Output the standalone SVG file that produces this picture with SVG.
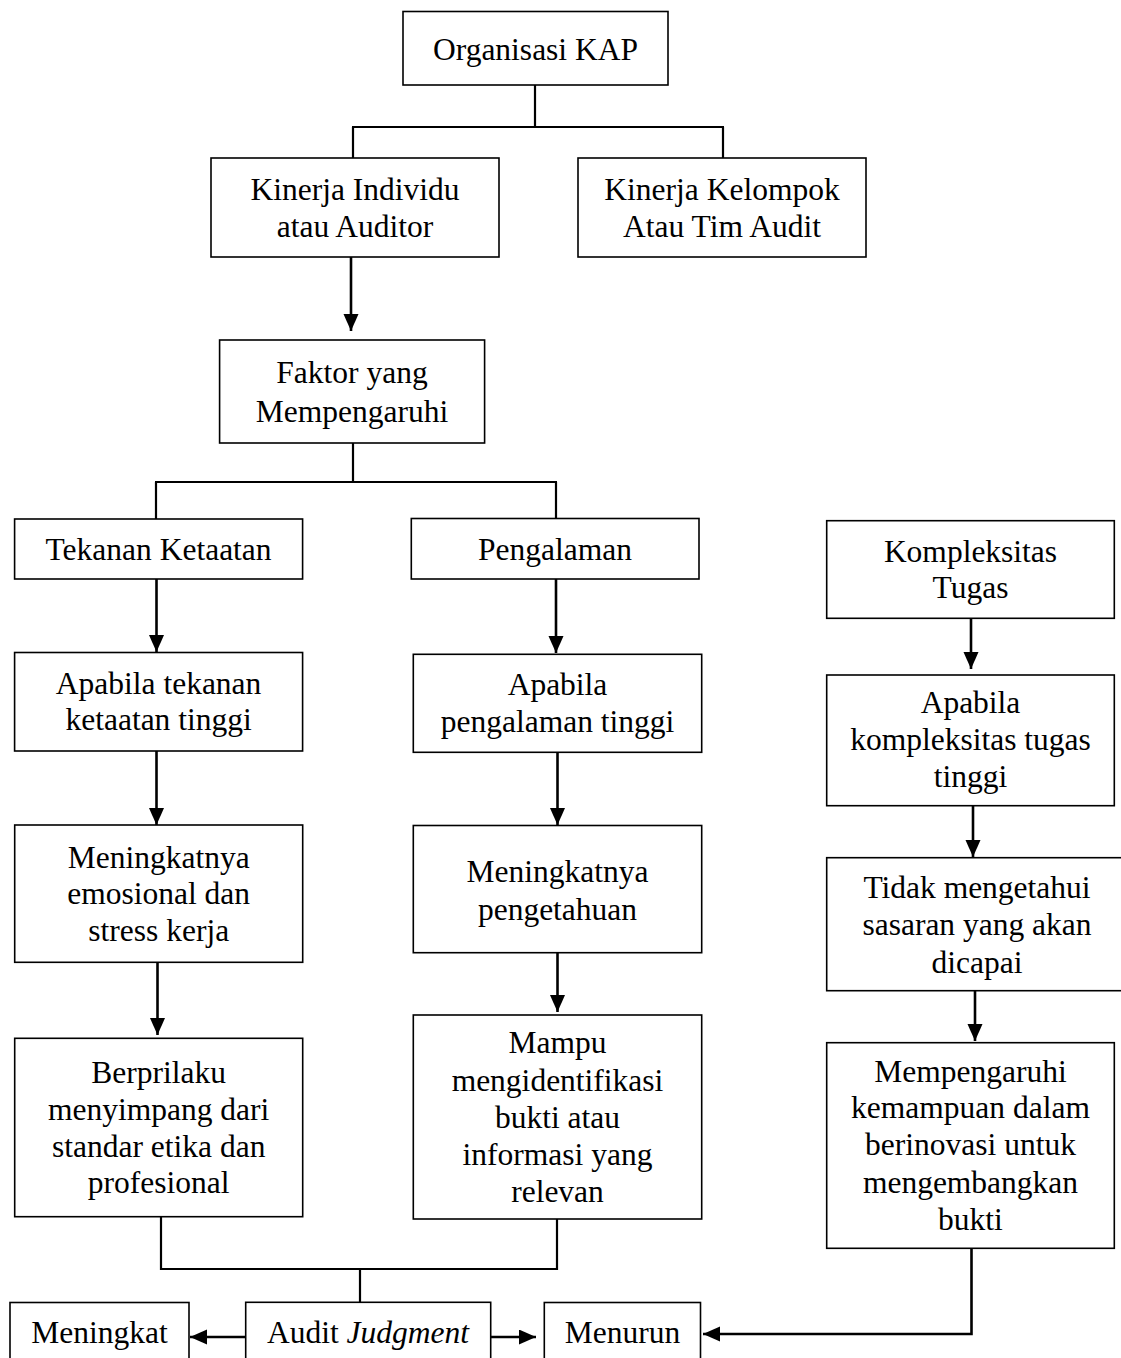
<svg xmlns="http://www.w3.org/2000/svg" width="1121" height="1358" viewBox="0 0 1121 1358">
<style>
.box{fill:#fff;stroke:#000;stroke-width:1.6}
.t{font-family:"Liberation Serif","Times New Roman",serif;font-size:31.5px;fill:#000;text-anchor:middle}
.c{fill:none;stroke:#000;stroke-width:2.2}
.a{fill:none;stroke:#000;stroke-width:2.6}
</style>
<defs>
<marker id="ah" markerUnits="userSpaceOnUse" markerWidth="18" markerHeight="16" refX="17" refY="7.5" orient="auto">
<path d="M0,0 L17,7.5 L0,15 z" fill="#000"/>
</marker>
</defs>
<rect width="1121" height="1358" fill="#fff"/>
<g id="connectors">
<path class="c" d="M535,85 V127 M352,127 H724 M353,127 V158 M723,127 V158"/>
<path class="a" d="M351,257 V331" marker-end="url(#ah)"/>
<path class="c" d="M353,443 V482 M155,482 H557 M156,482 V519 M556,482 V519"/>
<path class="a" d="M156.5,579 V652" marker-end="url(#ah)"/>
<path class="a" d="M156.5,751 V825" marker-end="url(#ah)"/>
<path class="a" d="M157.5,962 V1035" marker-end="url(#ah)"/>
<path class="a" d="M556,579 V653" marker-end="url(#ah)"/>
<path class="a" d="M557.5,752 V825" marker-end="url(#ah)"/>
<path class="a" d="M557.5,953 V1012" marker-end="url(#ah)"/>
<path class="a" d="M971,618 V669" marker-end="url(#ah)"/>
<path class="a" d="M973,806 V857" marker-end="url(#ah)"/>
<path class="a" d="M975,991 V1041" marker-end="url(#ah)"/>
<path class="c" d="M161,1217 V1269 H557 V1219 M360,1269 V1302"/>
<path class="a" d="M245.7,1337 H190" marker-end="url(#ah)"/>
<path class="a" d="M490.7,1337 H536" marker-end="url(#ah)"/>
<path class="a" d="M971.5,1248 V1334 H703" marker-end="url(#ah)"/>
</g>
<g id="n-organisasi">
<rect class="box" x="403" y="11.5" width="265" height="73.5"/>
<text class="t" x="535.5" y="59.5">Organisasi KAP</text>
</g>
<g id="n-individu">
<rect class="box" x="211" y="158" width="288" height="99"/>
<text class="t" x="355" y="200">Kinerja Individu</text>
<text class="t" x="355" y="237">atau Auditor</text>
</g>
<g id="n-kelompok">
<rect class="box" x="578" y="158" width="288" height="99"/>
<text class="t" x="722" y="200">Kinerja Kelompok</text>
<text class="t" x="722" y="237">Atau Tim Audit</text>
</g>
<g id="n-faktor">
<rect class="box" x="219.6" y="340" width="265" height="103"/>
<text class="t" x="352" y="383">Faktor yang</text>
<text class="t" x="352" y="421.5">Mempengaruhi</text>
</g>
<g id="n-tekanan">
<rect class="box" x="14.6" y="519" width="288" height="60"/>
<text class="t" x="158.6" y="559.5">Tekanan Ketaatan</text>
</g>
<g id="n-pengalaman">
<rect class="box" x="411.3" y="518.5" width="287.7" height="60.5"/>
<text class="t" x="555" y="560">Pengalaman</text>
</g>
<g id="n-kompleksitas">
<rect class="box" x="826.7" y="520.7" width="287.6" height="97.6"/>
<text class="t" x="970.5" y="562.3">Kompleksitas</text>
<text class="t" x="970.5" y="598">Tugas</text>
</g>
<g id="n-apabila-tekanan">
<rect class="box" x="14.6" y="652.5" width="288" height="98.5"/>
<text class="t" x="158.6" y="693.5">Apabila tekanan</text>
<text class="t" x="158.6" y="730">ketaatan tinggi</text>
</g>
<g id="n-apabila-pengalaman">
<rect class="box" x="413.3" y="654.3" width="288.4" height="98"/>
<text class="t" x="557.5" y="695">Apabila</text>
<text class="t" x="557.5" y="731.7">pengalaman tinggi</text>
</g>
<g id="n-apabila-kompleksitas">
<rect class="box" x="826.7" y="675" width="287.6" height="130.7"/>
<text class="t" x="970.5" y="713.3">Apabila</text>
<text class="t" x="970.5" y="750">kompleksitas tugas</text>
<text class="t" x="970.5" y="786.7">tinggi</text>
</g>
<g id="n-emosional">
<rect class="box" x="14.7" y="825" width="288" height="137.3"/>
<text class="t" x="158.7" y="867.7">Meningkatnya</text>
<text class="t" x="158.7" y="904">emosional dan</text>
<text class="t" x="158.7" y="941">stress kerja</text>
</g>
<g id="n-pengetahuan">
<rect class="box" x="413.3" y="825.5" width="288.4" height="127.2"/>
<text class="t" x="557.5" y="881.7">Meningkatnya</text>
<text class="t" x="557.5" y="920">pengetahuan</text>
</g>
<g id="n-tidak">
<rect class="box" x="826.7" y="857.7" width="300" height="133"/>
<text class="t" x="977" y="898.3">Tidak mengetahui</text>
<text class="t" x="977" y="935">sasaran yang akan</text>
<text class="t" x="977" y="973.3">dicapai</text>
</g>
<g id="n-berprilaku">
<rect class="box" x="14.7" y="1038.3" width="288" height="178.4"/>
<text class="t" x="158.7" y="1082.7">Berprilaku</text>
<text class="t" x="158.7" y="1120">menyimpang dari</text>
<text class="t" x="158.7" y="1156.7">standar etika dan</text>
<text class="t" x="158.7" y="1192.7">profesional</text>
</g>
<g id="n-mampu">
<rect class="box" x="413.3" y="1015" width="288.4" height="204"/>
<text class="t" x="557.5" y="1053.3">Mampu</text>
<text class="t" x="557.5" y="1090.7">mengidentifikasi</text>
<text class="t" x="557.5" y="1127.7">bukti atau</text>
<text class="t" x="557.5" y="1165">informasi yang</text>
<text class="t" x="557.5" y="1201.7">relevan</text>
</g>
<g id="n-mempengaruhi">
<rect class="box" x="826.7" y="1042.7" width="287.6" height="205.6"/>
<text class="t" x="970.5" y="1081.7">Mempengaruhi</text>
<text class="t" x="970.5" y="1118.3">kemampuan dalam</text>
<text class="t" x="970.5" y="1155">berinovasi untuk</text>
<text class="t" x="970.5" y="1192.7">mengembangkan</text>
<text class="t" x="970.5" y="1230">bukti</text>
</g>
<g id="n-meningkat">
<rect class="box" x="10" y="1302.5" width="179" height="80"/>
<text class="t" x="99.5" y="1343">Meningkat</text>
</g>
<g id="n-audit">
<rect class="box" x="245.7" y="1302.3" width="245" height="80"/>
<text class="t" x="368" y="1343">Audit <tspan font-style="italic">Judgment</tspan></text>
</g>
<g id="n-menurun">
<rect class="box" x="544.3" y="1302.5" width="156.2" height="80"/>
<text class="t" x="622.4" y="1343">Menurun</text>
</g>
</svg>
